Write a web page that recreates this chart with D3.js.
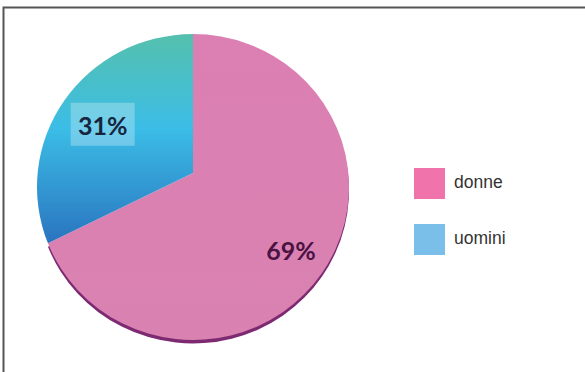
<!DOCTYPE html>
<html>
<head>
<meta charset="utf-8">
<script src="https://cdn.jsdelivr.net/npm/d3@7"></script>
<style>
  body { margin: 0; background: #fff; }
  svg { display: block; }
</style>
</head>
<body>
<div id="chart"></div>
<script>
// data
var categories = ["donne", "uomini"];
var values = [69, 31];
var labels = ["69%", "31%"];
var legendColors = ["#f173ab", "#7abfe9"];

var width = 585, height = 372;

var svg = d3.select("#chart").append("svg")
  .attr("width", width).attr("height", height);

var defs = svg.append("defs");
var gBlue = defs.append("linearGradient").attr("id", "gBlue")
  .attr("x1", 0).attr("y1", 0).attr("x2", 0).attr("y2", 1);
gBlue.append("stop").attr("offset", "0%").attr("stop-color", "#55c0ad");
gBlue.append("stop").attr("offset", "45%").attr("stop-color", "#3bbde6");
gBlue.append("stop").attr("offset", "100%").attr("stop-color", "#2a74bf");

var gPink = defs.append("linearGradient").attr("id", "gPink")
  .attr("x1", 0).attr("y1", 0).attr("x2", 0).attr("y2", 1);
gPink.append("stop").attr("offset", "0%").attr("stop-color", "#dc7fb3");
gPink.append("stop").attr("offset", "100%").attr("stop-color", "#d982b1");

var sliceFill = ["url(#gPink)", "url(#gBlue)"];
var labelColor = ["#4a1242", "#16263f"];

// frame (top and left lines only)
svg.append("path")
  .attr("d", "M3.5," + height + "V7.5H" + width)
  .attr("fill", "none").attr("stroke", "#555").attr("stroke-width", 2);

// tilted pie: ellipse outline, vertex slightly above ellipse centre
var cx = 193, cy = 187, rx = 156, ry = 153, vy = 173;

var pie = d3.pie().sort(null).value(function (d) { return d; });
var arcs = pie(values);

function pt(a) {
  return [cx + rx * Math.sin(a), cy - ry * Math.cos(a)];
}
function slicePath(d, dy) {
  dy = dy || 0;
  var p0 = pt(d.startAngle), p1 = pt(d.endAngle);
  var large = (d.endAngle - d.startAngle) > Math.PI ? 1 : 0;
  return "M" + cx + "," + (vy + dy) +
    "L" + p0[0] + "," + (p0[1] + dy) +
    "A" + rx + "," + ry + " 0 " + large + " 1 " + p1[0] + "," + (p1[1] + dy) + "Z";
}

var g = svg.append("g");

// dark rim under the pink slice
g.append("path")
  .attr("d", slicePath(arcs[0], 3.5))
  .attr("fill", "#7e2a72");

g.selectAll("path.slice").data(arcs).join("path")
  .attr("class", "slice")
  .attr("d", function (d) { return slicePath(d); })
  .attr("fill", function (d, i) { return sliceFill[i]; });

// labels
var labelR = [0.76, 0.7];
arcs.forEach(function (d, i) {
  var mid = (d.startAngle + d.endAngle) / 2;
  var x = cx + labelR[i] * rx * Math.sin(mid);
  var y = vy - labelR[i] * ry * Math.cos(mid) + 12;
  if (i === 1) {
    g.append("rect")
      .attr("x", x - 32).attr("y", y - 22)
      .attr("width", 64).attr("height", 43)
      .attr("fill", "#ffffff").attr("opacity", 0.28);
  }
  g.append("text")
    .attr("x", x).attr("y", y)
    .attr("text-anchor", "middle")
    .attr("dominant-baseline", "central")
    .attr("font-family", "Lato, 'Open Sans', sans-serif")
    .attr("font-weight", 700)
    .attr("font-size", 25)
    .attr("fill", labelColor[i])
    .text(labels[i]);
});

// legend
var legend = svg.append("g").attr("transform", "translate(414,168)");
var items = legend.selectAll("g").data(categories).join("g")
  .attr("transform", function (d, i) { return "translate(0," + (i * 56) + ")"; });
items.append("rect")
  .attr("width", 31).attr("height", 31)
  .attr("fill", function (d, i) { return legendColors[i]; });
items.append("text")
  .attr("x", 40).attr("y", 20)
  .attr("font-family", "'Liberation Sans', Arial, sans-serif")
  .attr("font-size", 17.5)
  .attr("fill", "#333")
  .text(function (d) { return d; });
</script>
</body>
</html>
